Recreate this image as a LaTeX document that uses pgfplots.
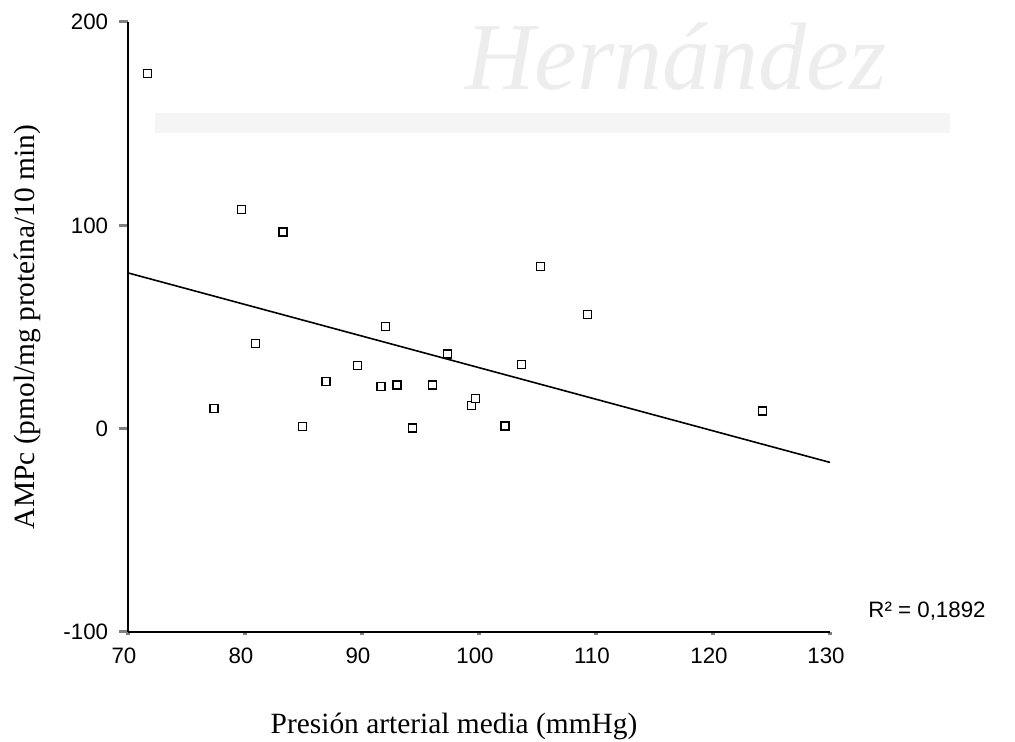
\documentclass[border=0pt]{standalone}
\usepackage{pgfplots}
\pgfplotsset{compat=1.18}
\usepackage{fontspec}
\setmainfont{Liberation Serif}
\newfontfamily\arial{Liberation Sans}

\begin{document}
\begin{tikzpicture}
\path[use as bounding box] (-64pt,-55pt) rectangle (443.5pt,316pt);
% faint watermark behind the plot
\fill[black!4] (13.5pt,249.5pt) rectangle (411pt,259.5pt);
\node[anchor=base west, inner sep=0pt, text=black!7,
      font=\fontsize{48}{50}\selectfont\itshape] at (168.5pt,271pt) {Hernández};
\begin{axis}[
  at={(0,0)}, anchor=south west,
  scale only axis, width=351pt, height=305pt,
  xmin=70, xmax=130, ymin=-100, ymax=200,
  axis x line*=bottom, axis y line*=left,
  axis line style={line width=1pt},
  clip=false,
  xtick={70,80,90,100,110,120,130},
  ytick={-100,0,100,200},
  xticklabels={70,80,90,100,110,120,130},
  yticklabels={-100,0,100,200},
  tick align=outside,
  xtick style={line width=2pt, /pgfplots/major tick length=1.5pt},
  ytick style={line width=1.5pt, /pgfplots/major tick length=4.5pt},
  xticklabel style={font=\arial\fontsize{11.15}{13}\selectfont, anchor=north, inner sep=0pt, yshift=-3.5pt, xshift=-2pt},
  yticklabel style={font=\arial\fontsize{11.15}{13}\selectfont, anchor=east, inner sep=0pt, xshift=-5.5pt},
  every axis x label/.style={at={(axis description cs:0.4644,0)}, anchor=base,
     yshift=-50.5pt, inner sep=0pt, font=\fontsize{14.7}{17}\selectfont},
  every axis y label/.style={at={(axis description cs:0,0.5)}, xshift=-50.5pt,
     rotate=90, anchor=center, inner sep=0pt, font=\fontsize{14.7}{17}\selectfont},
  xlabel={Presión arterial media (mmHg)},
  ylabel={AMPc (pmol/mg proteína/10 min)},
]
% linear fit
\addplot[black, line width=0.8pt] coordinates {(70,76.6) (130,-16.6)};
% observations
\addplot[only marks, mark=square*, mark size=2pt,
         mark options={fill=white, draw=black, line width=0.7pt}] table {
x y
71.65 174.6
79.72 107.7
83.25 96.8
77.35 9.8
80.88 41.8
84.93 1.1
86.92 23.1
89.63 31.0
91.62 20.7
91.99 50.3
92.99 21.5
94.33 0.3
96.01 21.5
97.32 36.7
99.38 11.3
99.72 14.8
102.22 1.3
103.65 31.6
105.24 79.8
109.29 56.1
124.25 8.7
};
\node[anchor=base west, inner sep=0pt, font=\arial\fontsize{11.15}{13}\selectfont]
  at (axis cs:133.25,-93.1) {R² = 0,1892};
\end{axis}
\end{tikzpicture}
\end{document}
